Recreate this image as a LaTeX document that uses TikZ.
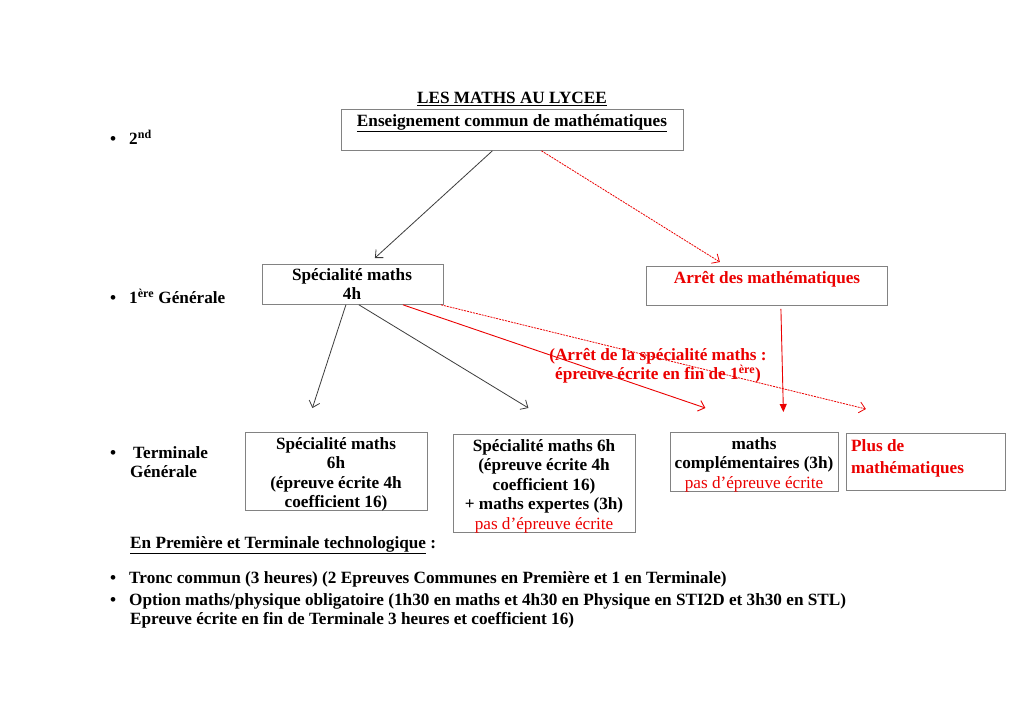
\documentclass[tikz,border=0pt]{standalone}
\usepackage{fontspec}
\setmainfont{Liberation Serif}
\usetikzlibrary{arrows.meta}
\definecolor{redc}{RGB}{235,0,0}
\definecolor{linec}{RGB}{60,60,60}
\definecolor{boxc}{RGB}{130,130,130}
\tikzset{
  box/.style={draw=boxc, line width=0.8pt, rectangle, anchor=north west, inner sep=0pt},
  txt/.style={font=\fontsize{17.2}{19.6}\selectfont\bfseries, inner sep=0pt, anchor=north, align=center},
  ltxt/.style={font=\fontsize{17.2}{19.6}\selectfont\bfseries, inner sep=0pt, anchor=north west, align=left},
  blk/.style={draw=linec, line width=0.8pt, -{Straight Barb[length=6pt,width=11pt]}},
  redarr/.style={draw=redc, line width=0.9pt, -{Straight Barb[length=6pt,width=11pt]}},
  reddash/.style={draw=redc, line width=0.8pt, dash pattern=on 2pt off 1pt, -{Straight Barb[length=6pt,width=11pt]}},
  redfill/.style={draw=redc, line width=0.9pt, -{Triangle[length=8pt,width=7pt]}},
}
\begin{document}
\begin{tikzpicture}[x=1pt,y=-1pt]
\useasboundingbox (0,0) rectangle (1024,724);
\fill[white] (0,0) rectangle (1024,724);

% title
\node[txt] (title) at (512,92) {\underline{LES MATHS AU LYCEE}};

% boxes
\node[box, minimum width=342pt, minimum height=41pt] (b1) at (341,109) {};
\node[txt] (t1) at (512,114) {\underline{Enseignement commun de mathématiques}};

\node[box, minimum width=181pt, minimum height=40pt] (b2) at (262,264) {};
\node[txt] (t2) at (352,268) {Spécialité maths\\4h};

\node[box, minimum width=241pt, minimum height=39pt] (b3) at (646,266) {};
\node[txt, text=redc] (t3) at (767,271) {Arrêt des mathématiques};

\node[box, minimum width=182pt, minimum height=78pt] (b4) at (245,432) {};
\node[txt] (t4) at (336,437) {Spécialité maths\\6h\\(épreuve écrite 4h\\coefficient 16)};

\node[box, minimum width=182pt, minimum height=98pt] (b5) at (453,434) {};
\node[txt] (t5) at (544,439) {Spécialité maths 6h\\(épreuve écrite 4h\\coefficient 16)\\+ maths expertes (3h)\\\textcolor{redc}{\mdseries pas d’épreuve écrite}};

\node[box, minimum width=168pt, minimum height=59pt] (b6) at (670,432) {};
\node[txt] (t6) at (754,437) {maths\\complémentaires (3h)\\\textcolor{redc}{\mdseries pas d’épreuve écrite}};

\node[box, minimum width=159pt, minimum height=57pt] (b7) at (846,433) {};
\node[ltxt, text=redc] (t7) at (851,439) {Plus de\\[2.5pt]mathématiques};

% red label
\node[txt, text=redc] (lab) at (658,348) {(Arrêt de la spécialité maths :\\épreuve écrite en fin de 1\textsuperscript{ère})};

% left labels
\node[ltxt] (l1) at (110,130) {\textbullet\hspace{13pt}2\textsuperscript{nd}};
\node[ltxt] (l2) at (110,289) {\textbullet\hspace{13pt}1\textsuperscript{ère} Générale};
\node[ltxt] (l3) at (110,446) {\textbullet\hspace{17pt}Terminale\\\hspace{20pt}Générale};

% bottom text
\node[ltxt] (l4) at (130,536) {\underline{En Première et Terminale technologique} :};
\node[ltxt] (l5) at (110,571) {\textbullet\hspace{13pt}Tronc commun (3 heures) (2 Epreuves Communes en Première et 1 en Terminale)};
\node[ltxt] (l6) at (110,593) {\textbullet\hspace{13pt}Option maths/physique obligatoire (1h30 en maths et 4h30 en Physique en STI2D et 3h30 en STL)\\\hspace{20pt}Epreuve écrite en fin de Terminale 3 heures et coefficient 16)};

% connectors
\draw[blk] ([xshift=-20pt]b1.south) -- ([xshift=22pt,yshift=6pt]b2.north);
\draw[reddash] ([xshift=29pt]b1.south) -- ([xshift=-47pt,yshift=4pt]b3.north);
\draw[blk] ([xshift=-7pt]b2.south) -- ([xshift=-24pt,yshift=24pt]b4.north);
\draw[blk] ([xshift=6pt]b2.south) -- ([xshift=-16pt,yshift=26pt]b5.north);
\draw[redarr] ([xshift=50pt]b2.south) -- ([xshift=-49pt,yshift=24pt]b6.north);
\draw[reddash] ([xshift=88pt]b2.south) -- ([xshift=-60pt,yshift=24pt]b7.north);
\draw[redfill] ([xshift=14pt,yshift=-3pt]b3.south) -- ([xshift=29pt,yshift=20pt]b6.north);
\end{tikzpicture}
\end{document}
